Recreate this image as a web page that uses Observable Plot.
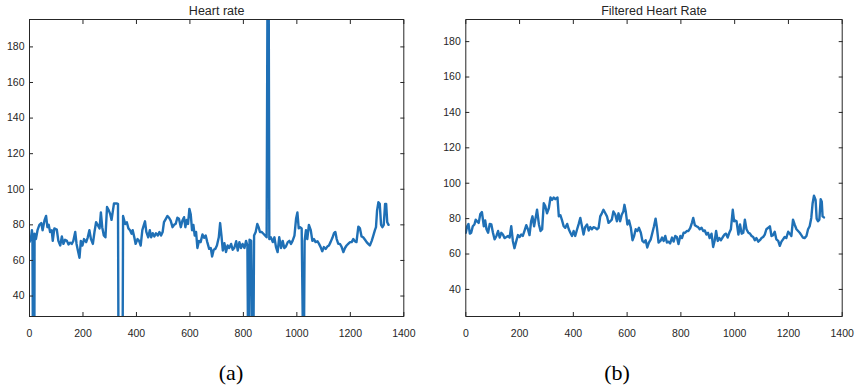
<!DOCTYPE html>
<html><head><meta charset="utf-8">
<script src="https://cdn.jsdelivr.net/npm/d3@7"></script>
<script src="https://cdn.jsdelivr.net/npm/@observablehq/plot@0.6"></script>
<style>
body{margin:0;background:#fff;width:856px;height:391px;position:relative;overflow:hidden;font-family:"Liberation Sans",Arial,sans-serif}
.panel{position:absolute;top:0}
.cap{position:absolute;font-family:"Liberation Serif","Times New Roman",serif;font-size:22px;color:#000;transform:translateX(-50%);top:361px;line-height:24px}
</style></head><body>
<div id="a" class="panel" style="left:0"></div>
<div id="b" class="panel" style="left:428px"></div>
<div class="cap" style="left:231px">(a)</div>
<div class="cap" style="left:617px">(b)</div>
<script>
// ---- data ----
const xTicks = [0, 200, 400, 600, 800, 1000, 1200, 1400];
const yTicks = [40, 60, 80, 100, 120, 140, 160, 180];
const titles = ["Heart rate", "Filtered Heart Rate"];
const captions = ["(a)", "(b)"];

const rawT = [0,5,9,11,13,18,19,24,30,37,44,49,56,62,67,72,77,83,87,93,102,108,115,121,127,133,140,146,152,158,164,171,176,181,187,192,198,204,212,218,224,230,237,243,249,255,262,267,272,278,284,290,297,302,307,312,316,326,331,333,348,350,358,364,370,376,382,386,392,397,404,410,416,422,429,432,437,444,450,455,461,467,473,480,486,492,498,503,510,516,522,528,535,541,547,553,559,566,572,578,583,588,593,598,603,608,613,618,623,628,634,640,647,653,659,665,672,678,683,689,695,701,708,713,718,723,729,735,741,747,754,760,766,773,779,785,791,797,804,810,815,818,821,823,829,834,837,840,846,852,857,862,868,875,881,887,891,894,897,903,910,916,922,928,934,941,947,953,959,966,972,978,984,991,997,1002,1007,1012,1018,1024,1026,1029,1034,1039,1045,1052,1058,1064,1070,1077,1083,1089,1095,1101,1108,1114,1120,1126,1133,1139,1144,1149,1155,1161,1167,1174,1180,1186,1192,1199,1205,1211,1217,1223,1230,1236,1242,1248,1255,1261,1267,1273,1280,1286,1292,1296,1300,1305,1310,1315,1320,1325,1330,1334,1338,1343];
const rawHR = [70.3,72,77,74,0,0,75,72,77,80,81,77,82.5,85,78.7,80,76,77,71,78,77.4,71,68.4,73.5,69.3,71.6,71,69,70,69.3,71,76,69.3,65.6,61.5,71,68.4,72,70.3,73,77,72,69.3,76,81.5,80,78,87,78.7,74,73,90,88,86,82.8,88,92,92,91.8,0,0,85,80.5,81.5,78,77,75,77,73,69.3,72,71,68.4,77,80.5,82,76,73,77,73,75.3,73.5,75.3,74,76,74,76,81.5,83.4,85,84,82.4,78.7,80,80.6,84,83.4,78.7,82.4,84.3,78.7,82.8,80.5,89,86,77,80,74,76,67,71,70.3,74.6,72.7,74,70.3,66.5,67,62.2,66,66.5,68.4,73,81,74,65.6,69.7,64.7,68.4,67,69.3,66,67,70.8,65.6,70.3,67,69.3,67,71,68.4,0,0,71.6,71,0,0,74,76,80.5,78.7,76,76,75,74,73,250,250,72,73,70.3,73,67.5,64.7,73,67,71,67,67.8,70.3,71,69.3,71,74,83.4,87,78,78.7,78,0,0,71,77,72,80,77,71,72,70.3,70.8,69.3,67.5,65.2,67.5,66.5,67.8,68.4,70.3,72.7,75.3,76,72,69.3,69.3,67.8,64.7,67,68.4,69.3,70.3,70.3,72,70.8,70.3,79,78,73.5,73,71.6,70.3,69.3,68.4,71,74,77,78.7,88,92.7,91.8,80,78.7,80,91.8,91.8,81.5,80];

const filtT = [0,5,10,15,20,26,32,37,42,48,54,60,67,72,77,83,89,95,101,107,114,120,126,132,138,144,151,157,163,169,175,181,188,194,200,206,212,218,225,231,237,243,248,254,260,265,272,278,284,290,296,302,309,315,321,327,333,341,346,352,358,364,370,377,383,389,395,401,407,414,420,426,432,438,444,451,457,463,469,475,481,488,494,500,506,512,519,525,531,537,543,549,556,562,568,574,580,586,590,595,601,607,614,620,626,632,638,644,651,657,663,669,675,681,688,694,700,706,711,717,724,730,736,742,748,754,760,767,773,779,785,791,798,804,810,816,822,828,835,841,846,852,858,864,870,877,883,889,895,901,907,914,920,926,931,937,943,949,956,962,968,974,980,986,993,998,1002,1007,1014,1020,1026,1032,1038,1044,1051,1057,1063,1069,1075,1081,1088,1094,1100,1106,1112,1118,1125,1131,1137,1143,1149,1155,1162,1168,1174,1180,1186,1192,1199,1205,1211,1217,1223,1230,1236,1242,1248,1254,1260,1267,1273,1279,1285,1290,1295,1301,1305,1310,1315,1320,1324,1327,1332];
const filtHR = [72,75.7,77,71.5,72,75.7,76.7,79.4,78.5,77.6,82.6,83.7,75.7,79,74,72,77,76.7,72,68.3,70.2,73,69.3,72,71,69,69.6,70.2,69.3,75.7,67.4,63.3,67.4,70.7,69.6,71,70.2,73,76.3,74,70.7,78.5,81.3,75.7,80.7,85,76.7,73,74,88.7,86.9,83,86,91.9,90.6,91.9,91,91.9,81.3,81.9,79,75.7,74.8,77,74,72,70.2,73,70.2,74,77,80.4,75.7,71,75.2,76.7,73.3,75.2,74,75.2,74.8,74,74.8,81.3,83,85,83,81.3,77.6,78.5,79.4,84,82.2,78.5,83,78.5,82.2,84,87.8,84,76.7,79,74.8,67.8,70.2,74,73,74.8,72,67.4,66.5,67.8,63.7,66.5,68.3,72,75.7,80,74.8,66.5,67.4,69.3,67.4,70.2,66.5,67,66,69.3,67,70.2,69.6,65.6,70.2,69,72,72,73,73,74.8,77.6,80.4,76.3,75.7,75.2,74,74.8,73,73.3,71,72,69,71.5,64,67.8,73,67.4,69,67.8,69.6,71,71.5,69.3,72,74,85,78.5,79,78.5,71,76.7,71.5,72,79.4,74,72,71.5,70.2,69.6,67.8,69,67,67.8,69,69.6,71,74,74.8,75.7,70.2,70.7,72.6,68.3,67.4,64.6,67,68.3,69.6,69,72.6,71.5,70.2,79.4,76.7,74,73,72,70.7,69.3,69,70.2,74,75.7,80.4,88.7,93,90.6,80,78.5,79.4,91,89.6,81.3,80.7];

// ---- drawing ----
const LINE = "#1f70b6";
const INK = "#262626";

function panel(title, xs, ys, yDomain, ml, mr) {
  const data = xs.map((x, i) => ({t: x, hr: ys[i]}));
  const blank = () => "";
  const plain = (d) => String(d);
  return Plot.plot({
    width: 428, height: 345,
    marginTop: 19, marginBottom: 29, marginLeft: ml, marginRight: mr,
    x: {domain: [0, 1400]},
    y: {domain: yDomain},
    style: {fontFamily: "'Liberation Sans', Arial, sans-serif", fontSize: "10.5px", color: INK, background: "white"},
    marks: [
      Plot.line(data, {x: "t", y: "hr", stroke: LINE, strokeWidth: 2.4, clip: true}),
      Plot.frame({stroke: INK, strokeWidth: 1}),
      Plot.axisX(xTicks, {anchor: "bottom", tickSize: 0, tickPadding: 13, tickFormat: plain, label: null}),
      Plot.axisX(xTicks, {anchor: "bottom", tickSize: -4, tickFormat: blank, label: null}),
      Plot.axisX(xTicks, {anchor: "top", tickSize: -4, tickFormat: blank, label: null}),
      Plot.axisY(yTicks, {anchor: "left", tickSize: 0, tickPadding: 5, tickFormat: plain, label: null}),
      Plot.axisY(yTicks, {anchor: "left", tickSize: -4, tickFormat: blank, label: null}),
      Plot.axisY(yTicks, {anchor: "right", tickSize: -4, tickFormat: blank, label: null}),
      Plot.text([title], {frameAnchor: "top", dy: -9, lineAnchor: "middle", fontSize: 12.5, fill: INK})
    ]
  });
}

document.getElementById("a").appendChild(panel(titles[0], rawT, rawHR, [28.5, 195.4], 29, 24.7));
document.getElementById("b").appendChild(panel(titles[1], filtT, filtHR, [24.7, 192.5], 37.3, 14.3));
const caps = document.querySelectorAll(".cap");
caps[0].textContent = captions[0];
caps[1].textContent = captions[1];
</script>
</body></html>
